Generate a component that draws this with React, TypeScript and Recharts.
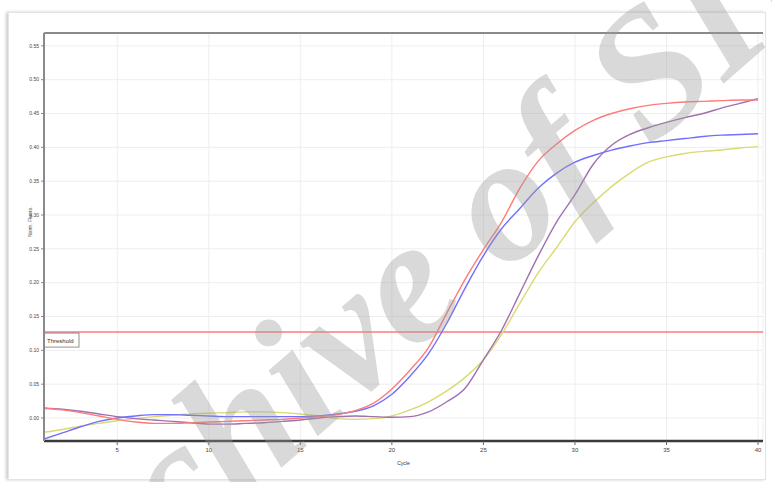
import React from 'react';
import { LineChart, Line, XAxis, YAxis, CartesianGrid, ReferenceLine } from 'recharts';

const cycles = Array.from({ length: 40 }, (_, i) => i + 1);

const redSeries = [0.014, 0.012, 0.008, 0.003, -0.002, -0.006, -0.008, -0.008, -0.007, -0.006, -0.005, -0.004, -0.003, -0.002, 0.000, 0.002, 0.005, 0.011, 0.022, 0.043, 0.071, 0.104, 0.155, 0.205, 0.249, 0.290, 0.340, 0.380, 0.405, 0.425, 0.440, 0.450, 0.457, 0.462, 0.465, 0.467, 0.468, 0.469, 0.470, 0.470];
const blueSeries = [-0.031, -0.022, -0.013, -0.005, 0.000, 0.003, 0.005, 0.005, 0.004, 0.003, 0.002, 0.002, 0.002, 0.002, 0.002, 0.003, 0.006, 0.010, 0.018, 0.035, 0.062, 0.095, 0.140, 0.192, 0.240, 0.280, 0.310, 0.340, 0.362, 0.378, 0.388, 0.396, 0.402, 0.407, 0.410, 0.413, 0.416, 0.418, 0.419, 0.420];
const purpleSeries = [0.015, 0.013, 0.010, 0.006, 0.002, -0.001, -0.003, -0.005, -0.007, -0.009, -0.009, -0.008, -0.007, -0.005, -0.003, 0.000, 0.002, 0.003, 0.002, 0.001, 0.002, 0.009, 0.024, 0.044, 0.086, 0.130, 0.185, 0.240, 0.290, 0.330, 0.375, 0.403, 0.419, 0.429, 0.437, 0.444, 0.450, 0.458, 0.465, 0.472];
const yellowSeries = [-0.021, -0.017, -0.012, -0.008, -0.004, -0.001, 0.002, 0.004, 0.006, 0.007, 0.008, 0.009, 0.009, 0.008, 0.006, 0.003, -0.001, -0.002, -0.001, 0.003, 0.012, 0.024, 0.040, 0.060, 0.086, 0.124, 0.170, 0.215, 0.252, 0.290, 0.318, 0.342, 0.362, 0.378, 0.386, 0.391, 0.394, 0.396, 0.399, 0.401];

const xTicks = [5, 10, 15, 20, 25, 30, 35, 40];
const yTicks = [0, 0.05, 0.1, 0.15, 0.2, 0.25, 0.3, 0.35, 0.4, 0.45, 0.5, 0.55];
const threshold = 0.127;
const Y_MIN = -0.034;
const Y_MAX = 0.569;
const X_MIN = 1;
const X_MAX = 40.27;

const data = cycles.map((c, i) => ({
  cycle: c,
  red: redSeries[i],
  blue: blueSeries[i],
  purple: purpleSeries[i],
  yellow: yellowSeries[i],
}));

const ThresholdLabel = (props: any) => {
  const vb = props.viewBox || {};
  const x = vb.x;
  const y = vb.y;
  return (
    <g>
      <rect x={x} y={y + 1} width={35} height={14} fill="#fff" stroke="#777" strokeWidth={0.8} />
      <text x={x + 3} y={y + 10.5} fontSize={6} fill="#333" fontFamily="Liberation Sans, Arial, sans-serif">Threshold</text>
    </g>
  );
};

export default function App() {
  return (
    <div style={{ position: 'absolute', left: 0, top: 0, width: 772, height: 482, background: '#fff', overflow: 'hidden' }}>
      <div style={{ position: 'absolute', left: 8, top: 12, width: 756, height: 466, border: '1px solid #e4e4e4', boxShadow: '-2px 0 3px #ccc' }} />
      <div style={{ position: 'absolute', left: 0, top: 0 }}>
        <LineChart width={772} height={482} data={data} margin={{ top: 33, right: 9, bottom: 21, left: 14 }}>
          <CartesianGrid stroke="#eeeeee" strokeWidth={1} />
          <XAxis
            dataKey="cycle"
            type="number"
            domain={[X_MIN, X_MAX]}
            ticks={xTicks}
            allowDataOverflow
            height={20}
            tick={{ fontSize: 6, fill: '#444', fontFamily: 'Liberation Sans, Arial, sans-serif' }}
            tickSize={4}
            tickMargin={3}
            axisLine={{ stroke: '#3a3a3a', strokeWidth: 2.5 }}
            tickLine={{ stroke: '#666' }}
            label={{ value: 'Cycle', position: 'bottom', offset: 0, fontSize: 5, fill: '#333', fontFamily: 'Liberation Sans, Arial, sans-serif' }}
          />
          <YAxis
            type="number"
            domain={[Y_MIN, Y_MAX]}
            ticks={yTicks}
            allowDataOverflow
            width={30}
            tickFormatter={(v: number) => v.toFixed(2)}
            tick={{ fontSize: 5, fill: '#444', fontFamily: 'Liberation Sans, Arial, sans-serif' }}
            tickSize={3}
            tickMargin={2}
            axisLine={{ stroke: '#8a8a8a', strokeWidth: 2 }}
            tickLine={{ stroke: '#888' }}
            label={{ value: 'Norm. Fluoro.', angle: -90, position: 'insideLeft', offset: 16, fontSize: 5, fill: '#444', fontFamily: 'Liberation Sans, Arial, sans-serif' }}
          />
          <ReferenceLine y={Y_MAX} stroke="#8a8a8a" strokeWidth={2} />
          <ReferenceLine y={threshold} stroke="#ff7a7a" strokeWidth={1.5} label={<ThresholdLabel />} />
          <Line type="monotone" dataKey="yellow" stroke="#dada70" strokeWidth={1.4} dot={false} isAnimationActive={false} />
          <Line type="monotone" dataKey="purple" stroke="#a070b0" strokeWidth={1.4} dot={false} isAnimationActive={false} />
          <Line type="monotone" dataKey="blue" stroke="#7070ff" strokeWidth={1.4} dot={false} isAnimationActive={false} />
          <Line type="monotone" dataKey="red" stroke="#ff7a7a" strokeWidth={1.4} dot={false} isAnimationActive={false} />
        </LineChart>
      </div>
      <svg width={772} height={482} style={{ position: 'absolute', left: 0, top: 0, pointerEvents: 'none' }}>
        <text
          x={456}
          y={316}
          textAnchor="middle"
          transform="rotate(-41 456 316)"
          fontSize={178}
          fontStyle="italic"
          fontWeight="bold"
          fontFamily="Liberation Serif, Times New Roman, serif"
          fill="#9a9a9a"
          fillOpacity={0.38}
        >
          Archive of SID
        </text>
      </svg>
    </div>
  );
}
